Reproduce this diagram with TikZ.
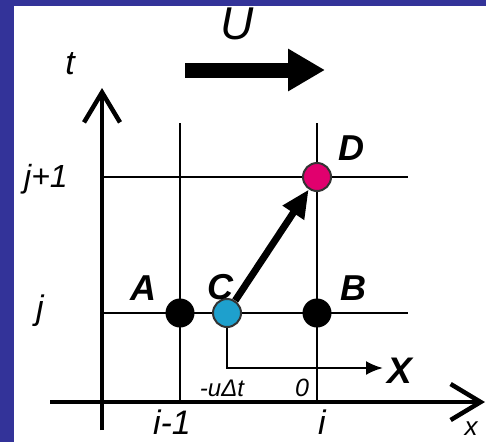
\documentclass[tikz,border=0pt]{standalone}
\usepackage{fontspec}
\setmainfont{Liberation Sans}
\usetikzlibrary{arrows.meta}
\definecolor{frameblue}{RGB}{51,51,153}
\definecolor{ptcyan}{RGB}{30,160,205}
\definecolor{ptpink}{RGB}{225,0,110}
\begin{document}
\begin{tikzpicture}[x=1pt,y=-1pt,
  gridline/.style={line width=2.5pt},
  axisline/.style={line width=4.5pt,-{Straight Barb[length=30pt,width=36pt,line width=4.5pt]}},
  ptblack/.style={circle,fill=black,minimum size=29pt,inner sep=0pt},
  ptcol/.style={circle,draw=black!80,line width=2pt,minimum size=28pt,inner sep=0pt},
  lab/.style={font=\fontsize{36}{36}\selectfont\bfseries\itshape,inner sep=0pt},
  idx/.style={font=\fontsize{34}{34}\selectfont\itshape,inner sep=0pt},
  small/.style={font=\fontsize{24}{24}\selectfont\itshape,inner sep=0pt},
]
\fill[white] (0,0) rectangle (486,442);
\useasboundingbox (0,0) rectangle (486,442);
% axes
\coordinate (tbot) at (102,430);
\coordinate (ttop) at (102,88);
\coordinate (xl) at (50,402);
\coordinate (xr) at (485,402);
\draw[axisline] (tbot) -- (ttop);
\draw[axisline] (xl) -- (xr);
% grid
\coordinate (v1t) at (180,123); \coordinate (v1b) at (180,402);
\coordinate (v2t) at (317,123); \coordinate (v2b) at (317,402);
\coordinate (h1l) at (102,177); \coordinate (h1r) at (408,177);
\coordinate (h0l) at (102,313); \coordinate (h0r) at (408,313);
\draw[gridline] (v1t) -- (v1b);
\draw[gridline] (v2t) -- (v2b);
\draw[gridline] (h1l) -- (h1r);
\draw[gridline] (h0l) -- (h0r);
% points
\node[ptblack] (A) at (180,313) {};
\node[ptblack] (B) at (317,313) {};
\node[ptcol,fill=ptcyan] (C) at (227,313) {};
\node[ptcol,fill=ptpink] (D) at (317,177) {};
% local X axis
\coordinate (Xend) at (383,368);
\draw[line width=2.5pt,-{Latex[length=17pt,width=14pt]}] (C) |- (Xend);
% characteristic arrow
\draw[line width=7pt,-{Triangle[length=28pt,width=24pt]}] (C) -- (D);
% U arrow
\coordinate (ul) at (185,70);
\coordinate (ur) at (325,70);
\draw[line width=15pt,-{Triangle[length=37pt,width=40pt]}] (ul) -- (ur);
% labels
\node[lab] (la) at (143,288) {A};
\node[lab] (lc) at (220,287) {C};
\node[lab] (lb) at (353,288) {B};
\node[lab] (ld) at (351,148) {D};
\node[font=\fontsize{37}{37}\selectfont\bfseries\itshape,inner sep=0pt] (lx) at (400,371) {X};
\node[idx] (lt) at (70,64) {t};
\node[idx] (lj) at (40,311) {j};
\node[font=\fontsize{32}{32}\selectfont\itshape,inner sep=0pt,anchor=east] (lj1) at (68,179) {j+1};
\node[idx] (li1) at (172,422) {i-1};
\node[idx] (li) at (322,422) {i};
\node[small] (lu) at (222,388) {-uΔt};
\node[font=\fontsize{25}{25}\selectfont\itshape,inner sep=0pt] (l0) at (302,388) {0};
\node[font=\fontsize{26}{26}\selectfont\itshape,inner sep=0pt] (lxx) at (471,429) {x};
\node[font=\fontsize{46}{46}\selectfont\itshape,inner sep=0pt] (lU) at (237,24) {U};
% frame
\fill[frameblue] (0,0) rectangle (14,442);
\fill[frameblue] (0,0) rectangle (486,6);
\end{tikzpicture}
\end{document}
